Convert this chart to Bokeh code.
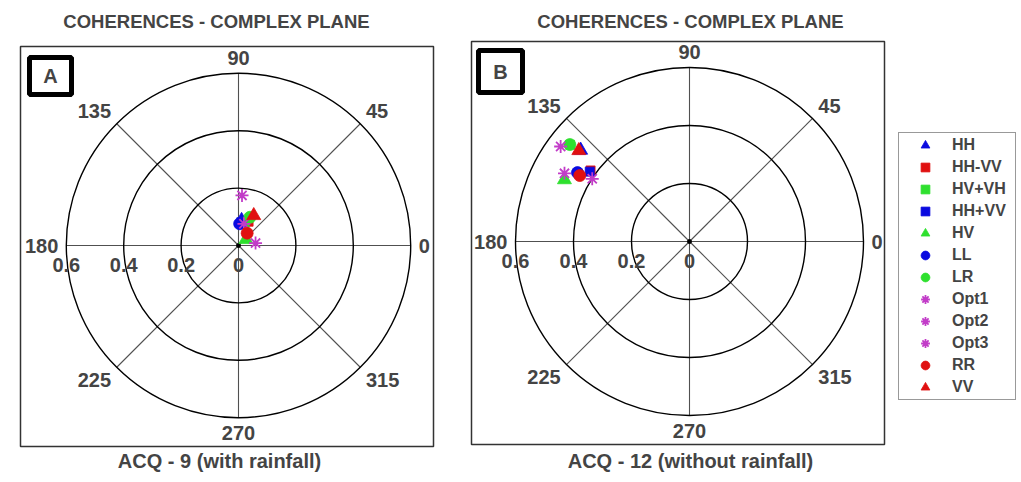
import numpy as np
from bokeh.plotting import figure
from bokeh.layouts import row
from bokeh.models import Range1d, Label, BoxAnnotation, Legend, LegendItem
from bokeh.embed import file_html
from bokeh.resources import INLINE

# ---------------- data ----------------
series = ["HH", "HH-VV", "HV+VH", "HH+VV", "HV", "LL", "LR", "Opt1", "Opt2", "Opt3", "RR", "VV"]

# ACQ - 9 (with rainfall): coherence magnitude and phase (degrees)
mag_a = [0.088, 0.090, 0.083, 0.082, 0.033, 0.076, 0.106, 0.175, 0.078, 0.060, 0.0525, 0.117]
phase_a = [83, 67, 75, 83, 39, 87, 68, 86, 76, 8, 55, 63]

# ACQ - 12 (without rainfall)
mag_b = [0.490, 0.420, 0.530, 0.420, 0.481, 0.4535, 0.531, 0.552, 0.491, 0.399, 0.4415, 0.494]
phase_b = [140.0, 144.3, 141.0, 145.0, 153.7, 148.4, 141.0, 143.6, 151.4, 147.2, 149.0, 140.6]

grid_radii = [0.2, 0.4, 0.6]
spoke_angles = [0, 45, 90, 135, 180, 225, 270, 315]
radial_ticks = [0.6, 0.4, 0.2, 0.0]
radial_tick_labels = ["0.6", "0.4", "0.2", "0"]

# ---------------- styles ----------------
BLUE, RED, GREEN, MAG = "#0a0ae0", "#e01010", "#2ee02e", "#c23cc8"
markers = ["triangle", "square", "square", "square", "triangle", "circle", "circle",
           "asterisk", "asterisk", "asterisk", "circle", "triangle"]
colors = [BLUE, RED, GREEN, BLUE, GREEN, BLUE, GREEN, MAG, MAG, MAG, RED, RED]
msize = {"triangle": 14, "square": 9, "circle": 12, "asterisk": 13}
FONT = "Liberation Sans"

W, H = 1021, 482
OX, OY = 0, 0  # page offset of the figures


def make_panel(px_left, px_right, cx, cy, scale, mags, phases, title, caption,
               letter, box, letter_box, title_x, caption_x):
    """px_* are page pixel coordinates; cx, cy the page pixel of the polar origin."""
    width = px_right - px_left
    p = figure(width=width, height=H, output_backend="svg", toolbar_location=None,
               x_axis_location=None, y_axis_location=None, min_border=0,
               x_range=Range1d((px_left - cx) / scale, (px_right - cx) / scale),
               y_range=Range1d((cy - (OY + H)) / scale, (cy - OY) / scale))
    p.outline_line_color = None
    p.grid.visible = False

    def X(px):
        return (px - cx) / scale

    def Y(py):
        return (cy - py) / scale

    # panel frame
    p.add_layout(BoxAnnotation(left=X(box[0]), right=X(box[1]), top=Y(box[2]), bottom=Y(box[3]),
                               fill_color=None, line_color="#333333", line_alpha=1.0,
                               line_width=1.5, level="underlay"))
    # letter box
    p.add_layout(BoxAnnotation(left=X(letter_box[0]), right=X(letter_box[1]),
                               top=Y(letter_box[2]), bottom=Y(letter_box[3]),
                               fill_color="white", fill_alpha=1.0, line_color="black",
                               line_alpha=1.0, line_width=5))
    p.add_layout(Label(x=X((letter_box[0] + letter_box[1]) / 2), y=Y((letter_box[2] + letter_box[3]) / 2),
                       text=letter, text_font=FONT, text_font_style="bold", text_font_size="20px",
                       text_align="center", text_baseline="middle"))

    # spokes
    ang = np.deg2rad(spoke_angles)
    R = max(grid_radii)
    p.segment(x0=np.zeros(len(ang)), y0=np.zeros(len(ang)), x1=R * np.cos(ang), y1=R * np.sin(ang),
              line_color="#505050", line_width=1.1)
    # circles
    p.circle(x=np.zeros(len(grid_radii)), y=np.zeros(len(grid_radii)), radius=grid_radii,
             fill_color=None, line_color="black", line_width=1.4)
    p.scatter(x=[0], y=[0], size=4, color="black")

    # angle labels
    RL = 0.628
    align = {0: ("left", "middle"), 45: ("left", "bottom"), 90: ("center", "bottom"),
             135: ("right", "bottom"), 180: ("right", "middle"), 225: ("right", "top"),
             270: ("center", "top"), 315: ("left", "top")}
    for a in spoke_angles:
        ta, tb = align[a]
        p.add_layout(Label(x=RL * np.cos(np.deg2rad(a)), y=RL * np.sin(np.deg2rad(a)), text=str(a),
                           text_font=FONT, text_font_style="bold", text_font_size="20px",
                           text_align=ta, text_baseline=tb))
    # radial labels
    for r, t in zip(radial_ticks, radial_tick_labels):
        p.add_layout(Label(x=-r, y=-12 / scale, text=t, text_font=FONT, text_font_style="bold",
                           text_font_size="20px", text_align="center", text_baseline="top"))

    # title / caption
    p.add_layout(Label(x=X(title_x), y=Y(21), text=title, text_font=FONT, text_font_style="bold",
                       text_font_size="18.5px", text_align="center", text_baseline="middle"))
    p.add_layout(Label(x=X(caption_x), y=Y(460), text=caption, text_font=FONT, text_font_style="bold",
                       text_font_size="20px", text_align="center", text_baseline="middle"))

    # data
    th = np.deg2rad(phases)
    xs = np.array(mags) * np.cos(th)
    ys = np.array(mags) * np.sin(th)
    rends = []
    for i, name in enumerate(series):
        m = markers[i]
        if m == "asterisk":
            r = p.scatter(x=[xs[i]], y=[ys[i]], marker=m, size=msize[m], line_color=colors[i],
                          line_width=1.8)
        else:
            r = p.scatter(x=[xs[i]], y=[ys[i]], marker=m, size=msize[m], fill_color=colors[i],
                          line_color=colors[i], line_width=0.8)
        rends.append(r)
    return p, rends


pA, _ = make_panel(OX, 458, 238, 245, 287.0, mag_a, phase_a,
                   "COHERENCES - COMPLEX PLANE", "ACQ - 9 (with rainfall)", "A",
                   (20, 433, 46, 446), (29, 71, 57, 94), 216, 219)
pB, rendsB = make_panel(458, OX + W, 689, 241, 290.0, mag_b, phase_b,
                        "COHERENCES - COMPLEX PLANE", "ACQ - 12 (without rainfall)", "B",
                        (471, 884, 41, 444), (478, 522, 50, 92), 690, 690)

# legend: left edge at page x 898, bottom at page y 400
legend = Legend(items=[LegendItem(label=n, renderers=[r]) for n, r in zip(series, rendsB)],
                location=(898 - 458, H - 400), padding=1, spacing=0, glyph_height=22, glyph_width=50,
                label_height=22, label_standoff=2, label_width=62,
                label_text_font=FONT, label_text_font_style="bold", label_text_font_size="16px",
                border_line_color="#333333", border_line_width=1.5, background_fill_alpha=1.0,
                margin=0)
pB.add_layout(legend)

layout = row(pA, pB, spacing=0)
open("out.html", "w").write(file_html(layout, INLINE))
